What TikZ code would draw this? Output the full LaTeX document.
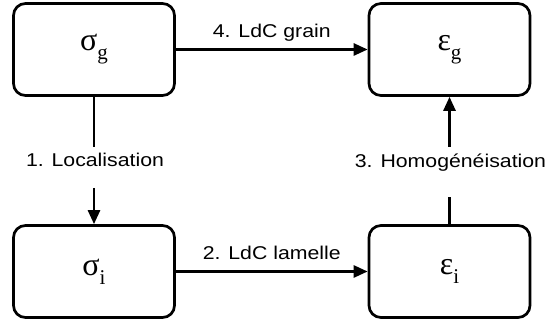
\documentclass[tikz,border=0pt]{standalone}
\usepackage{fontspec}
\setmainfont{Liberation Sans}
\newfontfamily\grk{Liberation Serif}
\newfontfamily\lblfont[FakeStretch=1.15]{Liberation Sans}
\usetikzlibrary{arrows.meta}
\newcommand{\bigsym}[2]{{\grk\fontsize{32}{32}\selectfont #1\raisebox{-9pt}{\fontsize{21}{21}\selectfont #2}}}
\tikzset{
  statebox/.style={draw, line width=2.7pt, rounded corners=12pt, minimum width=161pt, minimum height=92pt, inner sep=0pt},
  conn/.style={line width=2.7pt, -{Triangle[length=14pt,width=12pt]}},
  plain/.style={line width=2.7pt},
  lbl/.style={font=\lblfont\fontsize{18.5}{20}\selectfont, inner sep=0pt, anchor=base}
}
\begin{document}
\begin{tikzpicture}[x=1pt,y=-1pt]
\useasboundingbox (0,0) rectangle (551,328);
\node[statebox] (sg) at (94,49.5) {\bigsym{σ}{g}};
\node[statebox] (eg) at (449.5,49.5) {\bigsym{ε}{g}};
\node[statebox] (si) at (94,271.5) {\bigsym{σ}{i}};
\node[statebox] (ei) at (449.5,271.5) {\bigsym{ε}{i}};
\draw[conn] (sg) -- node[lbl, yshift=11.5pt] (l4) {4. LdC grain} (eg);
\draw[conn] (si) -- node[lbl, yshift=11.5pt] (l2) {2. LdC lamelle} (ei);
\node[lbl] (l1) at (95,167) {1. Localisation};
\node[lbl] (l3) at (450.5,167.5) {3. Homogénéisation};
\coordinate (l1t) at (94,147);
\coordinate (l1b) at (94,188);
\coordinate (l3t) at (449.5,147);
\coordinate (l3b) at (449.5,197);
\draw[plain] (sg.south) -- (l1t);
\draw[conn] (l1b) -- (si.north);
\draw[plain] (ei.north) -- (l3b);
\draw[conn] (l3t) -- (eg.south);
\end{tikzpicture}
\end{document}
